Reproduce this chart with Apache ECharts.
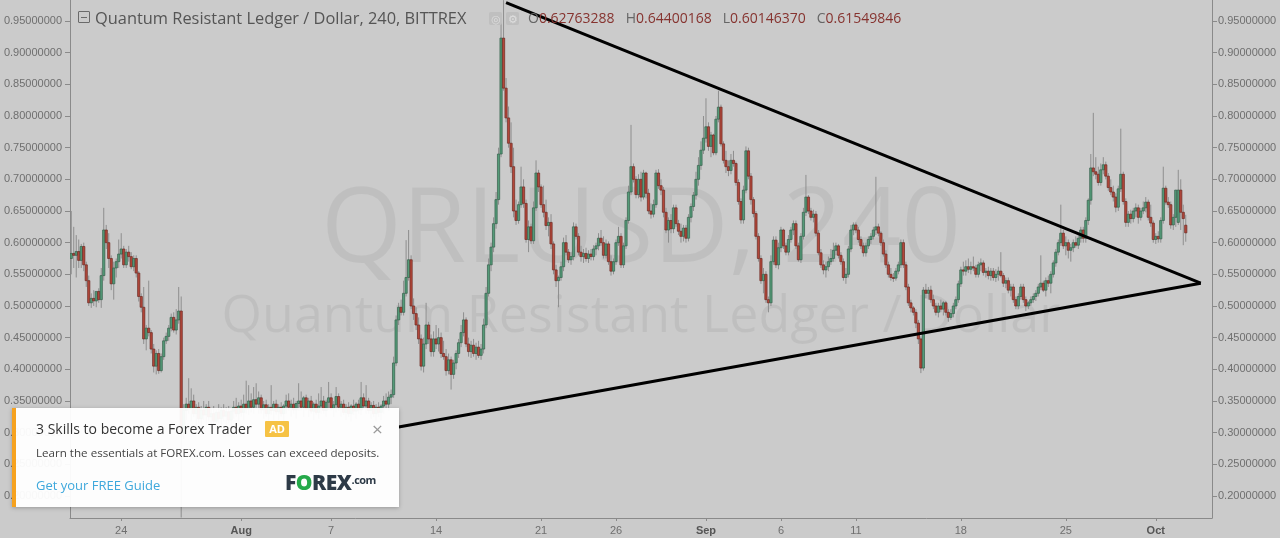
<!DOCTYPE html>
<html><head><meta charset="utf-8">
<script src="https://cdn.jsdelivr.net/npm/echarts@6/dist/echarts.min.js"></script>
<style>
html,body{margin:0;padding:0;width:1280px;height:538px;overflow:hidden;background:#cbcbcb;font-family:"Open Sans",sans-serif;}
#wrap{position:relative;width:1280px;height:538px;}
#chart{position:absolute;left:0;top:0;width:1280px;height:538px;z-index:1;}
.wm{position:absolute;left:1px;width:1280px;text-align:center;white-space:nowrap;color:rgba(0,0,0,0.055);line-height:1;z-index:0;}
.abs{position:absolute;white-space:nowrap;line-height:1;}
</style></head>
<body><div id="wrap">
<div class="wm" style="top:170px;font-size:104px;">QRLUSD, 240</div>
<div class="wm" style="top:286px;font-size:52px;">Quantum Resistant Ledger / Dollar</div>
<div id="chart"></div>

<div class="abs" style="left:78px;top:11px;width:10px;height:10px;border:1px solid #6a6a6a;border-radius:1px;z-index:3;"><div style="position:absolute;left:2px;right:2px;top:4.5px;height:1px;background:#6a6a6a;"></div></div>
<div class="abs" style="left:95px;top:10.3px;font-size:16.4px;color:#555;z-index:3;">Quantum Resistant Ledger / Dollar, 240, BITTREX</div>
<div class="abs" style="left:489px;top:12px;width:13px;height:13px;background:#bfbfbf;border-radius:2px;z-index:3;color:#dedede;font-size:11px;text-align:center;line-height:13px;">&#9678;</div>
<div class="abs" style="left:506px;top:12px;width:13px;height:13px;background:#bfbfbf;border-radius:2px;z-index:3;color:#dedede;font-size:11px;text-align:center;line-height:13px;">&#9881;</div>
<div class="abs" style="left:528px;top:10.6px;font-size:14px;z-index:3;color:#666;">O<span style="color:#86332f">0.62763288</span><span style="margin-left:11px">H</span><span style="color:#86332f">0.64400168</span><span style="margin-left:11px">L</span><span style="color:#86332f">0.60146370</span><span style="margin-left:11px">C</span><span style="color:#86332f">0.61549846</span></div>

<div id="ad" style="position:absolute;left:12px;top:408px;width:387px;height:99px;background:rgba(255,255,255,0.95);border-left:4px solid #f6a21f;box-sizing:border-box;box-shadow:0 1px 4px rgba(0,0,0,0.25);z-index:3;">
  <div class="abs" style="left:20px;top:13.5px;font-size:14px;color:#333;">3 Skills to become a Forex Trader</div>
  <div class="abs" style="left:249px;top:13px;width:24px;height:16px;background:#f6c244;color:#fff;font-size:11px;font-weight:700;text-align:center;line-height:16px;border-radius:1px;">AD</div>
  <div class="abs" style="left:356px;top:12px;font-size:19px;color:#9a9a9a;">&#215;</div>
  <div class="abs" style="left:20px;top:39px;font-size:11.6px;color:#444;">Learn the essentials at FOREX.com. Losses can exceed deposits.</div>
  <div class="abs" style="left:20px;top:71px;font-size:13px;color:#3ea8dc;">Get your FREE Guide</div>
  <div class="abs" style="left:269px;top:64px;font-size:21px;font-weight:800;color:#2d3a47;letter-spacing:-0.5px;">F<span style="color:#25a94a">O</span>REX<span style="font-size:11px;font-weight:700;vertical-align:6px;">.com</span></div>
</div>
</div>
<script>
// ---- Data: 4h candles, QRL/USD (Bittrex) ----
var SLOT_COUNT = 457;
var START_UTC = Date.UTC(2017, 6, 20, 16);
var tickDates = ['07-24','08-01','08-07','08-14','08-21','08-26','09-01','09-06','09-11','09-18','09-25','10-01'];
var tickTexts = ['24','Aug','7','14','21','26','Sep','6','11','18','25','Oct'];
var monthTicks = ['Aug','Sep','Oct'];
var yTicks = [0.20,0.25,0.30,0.35,0.40,0.45,0.50,0.55,0.60,0.65,0.70,0.75,0.80,0.85,0.90,0.95];
var Y_MIN = 0.1652, Y_MAX = 0.9832;

var openP = [
.575,.583,.580,.586,.572,.594,.565,.540,.505,.512,
.508,.523,.510,.548,.620,.600,.575,.535,.560,.570,
.582,.590,.565,.585,.578,.562,.575,.552,.515,.498,
.448,.465,.458,.432,.405,.425,.398,.420,.445,.452,
.465,.482,.462,.478,.492,.300,.335,.345,.338,.350,
.330,.340,.322,.336,.328,.340,.325,.330,.318,.332,
.322,.335,.326,.333,.320,.334,.340,.330,.342,.332,
.345,.338,.350,.340,.352,.345,.355,.336,.344,.330,
.340,.335,.345,.333,.340,.330,.342,.350,.340,.345,
.336,.346,.350,.340,.355,.338,.350,.334,.345,.332,
.342,.350,.335,.348,.355,.338,.344,.357,.340,.345,
.332,.340,.330,.342,.334,.345,.336,.355,.342,.350,
.335,.343,.330,.340,.332,.342,.350,.345,.356,.360,
.410,.478,.498,.490,.520,.545,.573,.500,.488,.470,
.448,.405,.440,.470,.448,.428,.448,.440,.450,.425,
.420,.398,.415,.392,.410,.425,.442,.458,.478,.440,
.428,.438,.425,.435,.422,.432,.470,.520,.565,.593,
.630,.668,.740,.923,.844,.797,.757,.720,.650,.635,
.660,.688,.662,.605,.625,.603,.655,.710,.688,.660,
.648,.627,.632,.598,.557,.540,.545,.562,.600,.585,
.573,.578,.625,.610,.585,.578,.583,.575,.582,.578,
.590,.595,.607,.600,.580,.598,.570,.555,.570,.600,
.610,.565,.595,.635,.680,.720,.700,.676,.700,.672,
.710,.678,.650,.645,.660,.710,.690,.683,.648,.620,
.635,.622,.655,.630,.618,.610,.623,.607,.640,.657,
.675,.700,.722,.746,.765,.783,.752,.770,.742,.795,
.814,.756,.730,.720,.714,.730,.725,.695,.665,.636,
.683,.745,.705,.668,.646,.610,.575,.540,.550,.510,
.505,.570,.604,.565,.592,.620,.595,.585,.605,.620,
.630,.595,.573,.610,.648,.672,.650,.640,.645,.615,
.584,.565,.557,.562,.570,.575,.588,.595,.580,.570,
.545,.550,.590,.620,.628,.620,.605,.595,.584,.595,
.605,.610,.620,.625,.615,.600,.582,.565,.550,.545,
.544,.555,.565,.600,.565,.530,.505,.497,.490,.473,
.448,.402,.525,.520,.525,.510,.500,.490,.500,.495,
.505,.490,.482,.488,.500,.510,.535,.557,.555,.562,
.558,.562,.560,.550,.565,.568,.553,.555,.548,.555,
.545,.550,.555,.548,.536,.540,.525,.530,.510,.500,
.515,.530,.510,.500,.505,.510,.515,.520,.530,.536,
.525,.540,.536,.550,.568,.585,.600,.615,.595,.600,
.588,.592,.600,.596,.607,.620,.607,.635,.667,.718,
.712,.708,.695,.715,.723,.705,.687,.680,.672,.656,
.685,.708,.665,.632,.645,.638,.650,.655,.640,.650,
.655,.664,.640,.631,.605,.610,.606,.635,.686,.664,
.660,.628,.640,.632,.683,.648,.6276
];
var highP = [
.650,.625,.612,.605,.598,.600,.570,.548,.520,.525,
.520,.528,.560,.655,.628,.615,.580,.570,.575,.605,
.615,.595,.590,.595,.585,.580,.580,.555,.520,.530,
.470,.540,.462,.440,.430,.432,.425,.450,.458,.470,
.488,.490,.495,.530,.515,.345,.355,.386,.370,.360,
.345,.348,.342,.350,.345,.350,.338,.342,.336,.345,
.340,.345,.340,.342,.338,.350,.355,.348,.352,.360,
.382,.375,.362,.372,.378,.365,.360,.350,.352,.345,
.375,.350,.352,.345,.348,.345,.360,.362,.352,.355,
.350,.378,.365,.358,.360,.355,.358,.348,.352,.362,
.372,.358,.352,.380,.362,.350,.372,.362,.350,.352,
.345,.348,.345,.352,.348,.352,.380,.362,.375,.355,
.348,.350,.345,.348,.345,.358,.362,.365,.368,.420,
.485,.505,.510,.540,.604,.620,.580,.512,.498,.482,
.455,.450,.505,.475,.455,.460,.470,.465,.458,.445,
.432,.425,.420,.415,.430,.448,.470,.490,.482,.450,
.445,.448,.442,.445,.440,.480,.530,.575,.600,.640,
.680,.750,.956,.983,.860,.815,.790,.750,.668,.665,
.720,.700,.668,.635,.630,.665,.730,.715,.692,.690,
.668,.640,.645,.602,.565,.548,.570,.608,.612,.590,
.585,.632,.630,.615,.595,.590,.592,.588,.590,.596,
.600,.615,.620,.610,.605,.602,.580,.575,.605,.625,
.615,.600,.640,.690,.786,.725,.705,.708,.712,.715,
.712,.685,.662,.668,.715,.716,.700,.688,.655,.640,
.645,.660,.660,.636,.630,.628,.628,.645,.662,.680,
.712,.735,.760,.800,.828,.790,.775,.772,.800,.840,
.818,.760,.745,.730,.740,.745,.728,.700,.670,.690,
.752,.750,.710,.672,.650,.615,.580,.560,.555,.515,
.580,.610,.610,.600,.625,.622,.600,.612,.625,.635,
.635,.600,.615,.655,.707,.675,.655,.652,.650,.620,
.590,.572,.570,.578,.590,.600,.600,.598,.585,.575,
.560,.595,.628,.632,.632,.625,.610,.600,.600,.610,
.615,.625,.704,.630,.618,.605,.588,.570,.560,.552,
.560,.570,.605,.605,.570,.535,.510,.500,.495,.478,
.452,.530,.535,.530,.532,.518,.505,.505,.510,.508,
.508,.495,.495,.505,.515,.540,.562,.570,.572,.575,
.570,.578,.565,.570,.575,.572,.560,.562,.560,.560,
.558,.562,.585,.552,.545,.545,.535,.535,.515,.520,
.535,.535,.515,.508,.515,.520,.525,.535,.580,.540,
.545,.548,.555,.572,.590,.605,.660,.620,.610,.605,
.598,.605,.610,.612,.625,.625,.640,.670,.740,.805,
.735,.720,.725,.735,.728,.710,.700,.690,.678,.690,
.780,.712,.670,.650,.652,.655,.662,.660,.655,.665,
.672,.668,.660,.635,.615,.618,.640,.720,.690,.672,
.665,.645,.648,.715,.700,.660,.6440
];
var lowP = [
.550,.560,.545,.560,.560,.555,.530,.500,.497,.500,
.498,.505,.497,.540,.590,.560,.525,.510,.545,.560,
.575,.560,.560,.570,.558,.555,.545,.507,.490,.440,
.430,.452,.425,.395,.392,.393,.395,.415,.440,.445,
.460,.458,.455,.472,.166,.290,.320,.330,.318,.325,
.310,.315,.305,.320,.312,.318,.300,.310,.305,.315,
.310,.318,.312,.315,.308,.322,.325,.318,.325,.320,
.330,.328,.332,.330,.338,.330,.330,.322,.325,.318,
.328,.320,.328,.320,.325,.318,.330,.335,.325,.330,
.322,.335,.335,.325,.335,.325,.330,.320,.328,.322,
.330,.330,.325,.336,.335,.325,.332,.335,.325,.328,
.320,.325,.318,.328,.322,.330,.328,.338,.330,.330,
.322,.325,.318,.325,.320,.330,.338,.335,.345,.355,
.405,.470,.485,.485,.515,.540,.495,.478,.462,.440,
.398,.395,.432,.440,.420,.420,.432,.428,.418,.415,
.390,.392,.368,.385,.400,.418,.435,.452,.435,.420,
.418,.420,.415,.418,.415,.425,.465,.515,.555,.585,
.622,.660,.735,.840,.790,.750,.710,.640,.628,.630,
.655,.655,.600,.585,.598,.598,.650,.680,.655,.640,
.620,.610,.590,.550,.530,.498,.540,.555,.580,.568,
.565,.572,.605,.580,.570,.568,.570,.568,.572,.572,
.580,.588,.595,.575,.575,.565,.548,.550,.565,.595,
.560,.560,.590,.630,.675,.695,.670,.670,.665,.668,
.670,.645,.638,.640,.655,.685,.675,.640,.615,.600,
.615,.615,.625,.612,.600,.602,.600,.602,.632,.650,
.668,.690,.715,.740,.758,.745,.735,.738,.738,.790,
.752,.725,.710,.705,.708,.720,.690,.660,.630,.630,
.678,.700,.660,.640,.605,.570,.535,.520,.505,.490,
.500,.565,.560,.558,.585,.590,.580,.580,.600,.612,
.590,.570,.568,.605,.642,.645,.635,.632,.610,.580,
.560,.550,.545,.555,.565,.570,.580,.575,.565,.540,
.535,.545,.585,.612,.615,.600,.590,.578,.578,.590,
.598,.605,.612,.610,.595,.578,.560,.545,.540,.538,
.540,.550,.560,.560,.525,.500,.490,.485,.465,.440,
.394,.398,.512,.510,.505,.495,.485,.482,.490,.485,
.485,.475,.478,.482,.495,.505,.530,.548,.548,.552,
.550,.555,.545,.545,.555,.548,.545,.542,.540,.540,
.538,.540,.545,.530,.528,.520,.515,.505,.495,.495,
.510,.505,.492,.495,.500,.505,.508,.515,.525,.522,
.515,.530,.520,.545,.562,.580,.595,.590,.580,.575,
.570,.585,.592,.590,.600,.600,.600,.628,.660,.705,
.700,.690,.690,.708,.700,.682,.675,.665,.648,.650,
.680,.660,.625,.625,.630,.632,.640,.630,.635,.645,
.648,.635,.625,.600,.598,.600,.600,.630,.660,.655,
.622,.620,.625,.628,.620,.596,.6015
];
var closeP = [
.583,.580,.586,.572,.594,.565,.540,.505,.512,.508,
.523,.510,.548,.620,.600,.575,.535,.560,.570,.582,
.590,.565,.585,.578,.562,.575,.552,.515,.498,.448,
.465,.458,.432,.405,.425,.398,.420,.445,.452,.465,
.482,.462,.478,.492,.300,.335,.345,.338,.350,.330,
.340,.322,.336,.328,.340,.325,.330,.318,.332,.322,
.335,.326,.333,.320,.334,.340,.330,.342,.332,.345,
.338,.350,.340,.352,.345,.355,.336,.344,.330,.340,
.335,.345,.333,.340,.330,.342,.350,.340,.345,.336,
.346,.350,.340,.355,.338,.350,.334,.345,.332,.342,
.350,.335,.348,.355,.338,.344,.357,.340,.345,.332,
.340,.330,.342,.334,.345,.336,.355,.342,.350,.335,
.343,.330,.340,.332,.342,.350,.345,.356,.360,.410,
.478,.498,.490,.520,.545,.573,.500,.488,.470,.448,
.405,.440,.470,.448,.428,.448,.440,.450,.425,.420,
.398,.415,.392,.410,.425,.442,.458,.478,.440,.428,
.438,.425,.435,.422,.432,.470,.520,.565,.593,.630,
.668,.740,.923,.844,.797,.757,.720,.650,.635,.660,
.688,.662,.605,.625,.603,.655,.710,.688,.660,.648,
.627,.632,.598,.557,.540,.545,.562,.600,.585,.573,
.578,.625,.610,.585,.578,.583,.575,.582,.578,.590,
.595,.607,.600,.580,.598,.570,.555,.570,.600,.610,
.565,.595,.635,.680,.720,.700,.676,.700,.672,.710,
.678,.650,.645,.660,.710,.690,.683,.648,.620,.635,
.622,.655,.630,.618,.610,.623,.607,.640,.657,.675,
.700,.722,.746,.765,.783,.752,.770,.742,.795,.814,
.756,.730,.720,.714,.730,.725,.695,.665,.636,.683,
.745,.705,.668,.646,.610,.575,.540,.550,.510,.505,
.570,.604,.565,.592,.620,.595,.585,.605,.620,.630,
.595,.573,.610,.648,.672,.650,.640,.645,.615,.584,
.565,.557,.562,.570,.575,.588,.595,.580,.570,.545,
.550,.590,.620,.628,.620,.605,.595,.584,.595,.605,
.610,.620,.625,.615,.600,.582,.565,.550,.545,.544,
.555,.565,.600,.565,.530,.505,.497,.490,.473,.448,
.402,.525,.520,.525,.510,.500,.490,.500,.495,.505,
.490,.482,.488,.500,.510,.535,.557,.555,.562,.558,
.562,.560,.550,.565,.568,.553,.555,.548,.555,.545,
.550,.555,.548,.536,.540,.525,.530,.510,.500,.515,
.530,.510,.500,.505,.510,.515,.520,.530,.536,.525,
.540,.536,.550,.568,.585,.600,.615,.595,.600,.588,
.592,.600,.596,.607,.620,.607,.635,.667,.718,.712,
.708,.695,.715,.723,.705,.687,.680,.672,.656,.685,
.708,.665,.632,.645,.638,.650,.655,.640,.650,.655,
.664,.640,.631,.605,.610,.606,.635,.686,.664,.660,
.628,.640,.683,.683,.648,.638,.6155
];
// Trend lines drawn on the chart: [candle index, price]
var upperTrend = [[174, 0.979], [452, 0.536]];
var lowerTrend = [[131, 0.309], [452, 0.536]];

// ---- Build ----
function pad(n){ return (n < 10 ? '0' : '') + n; }
var categories = [];
for (var k = 0; k < SLOT_COUNT; k++) {
  var d = new Date(START_UTC + k * 4 * 3600 * 1000);
  categories.push(pad(d.getUTCMonth() + 1) + '-' + pad(d.getUTCDate()) + ' ' + pad(d.getUTCHours()) + ':00');
}
var tickMap = {};
tickDates.forEach(function (td, j) { tickMap[td + ' 00:00'] = tickTexts[j]; });
function isTick(idx, val) { return tickMap[val] !== undefined; }

var n = Math.min(openP.length, highP.length, lowP.length, closeP.length);
var candleData = [];
for (var i = 0; i < n; i++) candleData.push([i, openP[i], closeP[i], lowP[i], highP[i]]);

var UP_FILL = '#549b78', UP_EDGE = '#355f4b', DN_FILL = '#b3473a', DN_EDGE = '#6b2a22', WICK = '#8e8e8e';

function renderCandle(params, api) {
  var x = api.value(0), o = api.value(1), c = api.value(2), l = api.value(3), h = api.value(4);
  var pO = api.coord([x, o]), pC = api.coord([x, c]), pL = api.coord([x, l]), pH = api.coord([x, h]);
  var bw = api.size([1, 0])[0] * 0.9;
  var up = c >= o;
  var top = Math.min(pO[1], pC[1]), bot = Math.max(pO[1], pC[1]);
  return {
    type: 'group',
    children: [
      { type: 'line', shape: { x1: pL[0], y1: pL[1], x2: pH[0], y2: pH[1] }, style: { stroke: WICK, lineWidth: 1 } },
      { type: 'rect', shape: { x: pO[0] - bw / 2, y: top, width: bw, height: Math.max(bot - top, 1) },
        style: { fill: up ? UP_FILL : DN_FILL, stroke: up ? UP_EDGE : DN_EDGE, lineWidth: 0.7 } }
    ]
  };
}

var axisColor = '#8a8a8a', labelColor = '#6f6f6f';
function yAxisDef(pos, margin) {
  return {
    type: 'value', position: pos, min: Y_MIN, max: Y_MAX,
    axisLine: { show: true, lineStyle: { color: axisColor, width: 1 } },
    axisTick: { show: true, length: 5, customValues: yTicks, lineStyle: { color: axisColor } },
    axisLabel: { customValues: yTicks, formatter: function (v) { return v.toFixed(8); },
      color: labelColor, fontSize: 11, fontFamily: 'Liberation Sans', margin: margin },
    splitLine: { show: false }
  };
}

var chart = echarts.init(document.getElementById('chart'), null, { renderer: 'canvas' });
chart.setOption({
  backgroundColor: 'transparent',
  animation: false,
  grid: { left: 70, right: 68, top: 0, bottom: 20 },
  xAxis: {
    type: 'category', data: categories, boundaryGap: true,
    axisLine: { show: true, lineStyle: { color: axisColor, width: 1 } },
    axisTick: { show: true, alignWithLabel: true, interval: isTick, length: 3, lineStyle: { color: axisColor } },
    axisLabel: {
      interval: isTick, margin: 7, color: labelColor, fontSize: 11, fontFamily: 'Liberation Sans',
      formatter: function (val) { var t = tickMap[val] || ''; return monthTicks.indexOf(t) >= 0 ? '{m|' + t + '}' : t; },
      rich: { m: { fontWeight: 'bold', color: '#555', fontSize: 11, fontFamily: 'Liberation Sans' } }
    },
    splitLine: { show: false }
  },
  yAxis: [yAxisDef('left', 8), yAxisDef('right', 6)],
  series: [
    { type: 'custom', name: 'QRLUSD', xAxisIndex: 0, yAxisIndex: 0, data: candleData,
      encode: { x: 0, y: [1, 2, 3, 4] }, renderItem: renderCandle, clip: true, z: 3, silent: true },
    { type: 'line', data: upperTrend, symbol: 'none', lineStyle: { color: '#000', width: 3 }, z: 5, silent: true },
    { type: 'line', data: lowerTrend, symbol: 'none', lineStyle: { color: '#000', width: 3 }, z: 5, silent: true }
  ]
});
</script>
</body></html>
